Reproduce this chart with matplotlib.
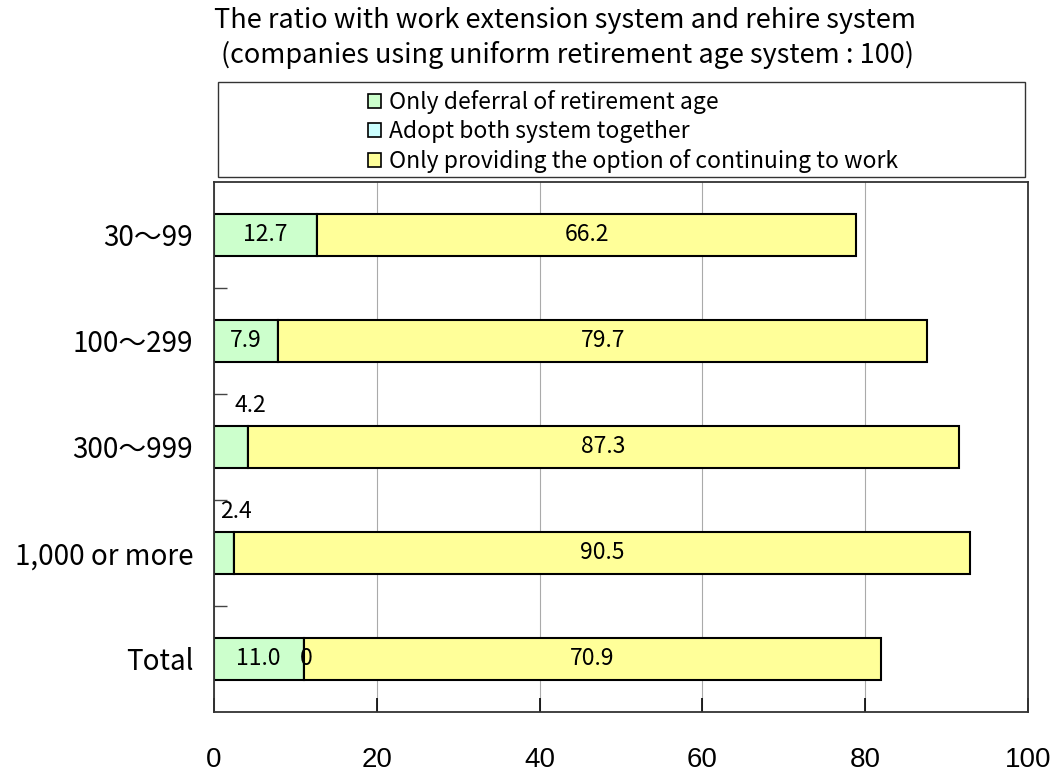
import matplotlib
matplotlib.use("Agg")
import matplotlib.pyplot as plt
from matplotlib.patches import Rectangle, Patch

plt.rcParams['font.family'] = ['Noto Sans CJK JP', 'DejaVu Sans']

categories = ["30〜99", "100〜299", "300〜999", "1,000 or more", "Total"]
deferral_only = [12.7, 7.9, 4.2, 2.4, 11.0]
both_systems = [None, None, None, None, 0.0]
continue_only = [66.2, 79.7, 87.3, 90.5, 70.9]
series_names = ["Only deferral of retirement age",
                "Adopt both system together",
                "Only providing the option of continuing to work"]
colors = ["#CCFFCC", "#CCFFFF", "#FFFF99"]

fig = plt.figure(figsize=(10.52, 7.74), dpi=100)
ax = fig.add_axes([0.2034, 0.0801, 0.7738, 0.6848])

ypos = list(range(len(categories)))
h = 0.4
both_vals = [b if b is not None else 0.0 for b in both_systems]
left2 = [d + b for d, b in zip(deferral_only, both_vals)]

ax.barh(ypos, deferral_only, height=h, color=colors[0], edgecolor="black", linewidth=1.5)
ax.barh(ypos, both_vals, left=deferral_only, height=h, color=colors[1], edgecolor="black", linewidth=1.5)
ax.barh(ypos, continue_only, left=left2, height=h, color=colors[2], edgecolor="black", linewidth=1.5)

fs = 16.5
for y, d in zip(ypos, deferral_only):
    if d >= 6:
        ax.text(d / 2, y, f"{d:.1f}", ha="center", va="center", fontsize=fs)
    else:
        # narrow segment: label sits above the bar
        ax.text(d + 0.3, y - h / 2 - 0.08, f"{d:.1f}", ha="center", va="bottom", fontsize=fs)
for y, d, b in zip(ypos, deferral_only, both_systems):
    if b is not None:
        ax.text(d + b / 2 + 0.3, y, f"{b:.0f}", ha="center", va="center", fontsize=fs)
for y, l, c in zip(ypos, left2, continue_only):
    ax.text(l + c / 2, y, f"{c:.1f}", ha="center", va="center", fontsize=fs)

ax.set_xlim(0, 100)
ax.set_ylim(len(categories) - 0.5, -0.5)
ax.set_xticks(range(0, 101, 20))
ax.tick_params(axis="x", direction="in", length=10, pad=25, width=1.2)
for lbl in ax.get_xticklabels():
    lbl.set_fontfamily("Liberation Sans")
    lbl.set_fontsize(20)
ax.set_yticks(ypos)
ax.set_yticklabels(categories)
ax.tick_params(axis="y", which="major", length=0, pad=15, labelsize=20)
ax.set_yticks([i + 0.5 for i in range(len(categories) - 1)], minor=True)
ax.tick_params(axis="y", which="minor", direction="in", length=9, width=1.0, color="#444444")
ax.xaxis.grid(True, color="#aaaaaa", linewidth=0.8)
ax.set_axisbelow(True)
for s in ax.spines.values():
    s.set_linewidth(1.3)
    s.set_color("#333333")

fig.text(0.537, 0.974, "The ratio with work extension system and rehire system",
         ha="center", va="center", fontsize=19.5)
fig.text(0.539, 0.929, "(companies using uniform retirement age system : 100)",
         ha="center", va="center", fontsize=19.5)

fig.add_artist(Rectangle((0.2072, 0.7713), 0.7671, 0.1227, transform=fig.transFigure,
                         fill=False, edgecolor="#333333", linewidth=1.0))
handles = [Patch(facecolor=c, edgecolor="black", linewidth=1.2) for c in colors]
fig.legend(handles, series_names, loc="upper left", bbox_to_anchor=(0.339, 0.898),
           frameon=False, fontsize=16.5, handlelength=0.55, handleheight=0.55,
           handletextpad=0.35, labelspacing=0.26, borderpad=0.0)

fig.savefig("out.png", dpi=100)
